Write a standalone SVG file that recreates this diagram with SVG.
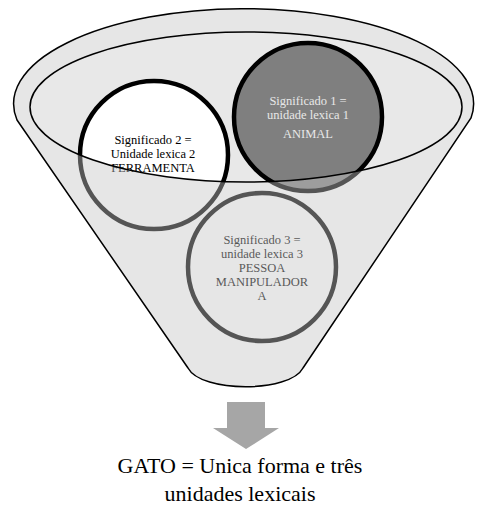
<svg xmlns="http://www.w3.org/2000/svg" width="477" height="518" viewBox="0 0 477 518">
<style>
.t{font-family:'Liberation Serif','Times New Roman','DejaVu Serif',serif;font-size:12.5px;text-anchor:middle}
.big{font-family:'Liberation Serif','Times New Roman','DejaVu Serif',serif;font-size:22px;text-anchor:middle;fill:#000}
.ring{stroke-width:4.5}
</style>
<defs>
<path id="funnel" d="M17,120 L188,368 C201,393 290,393 303,368 L471,118 A230,95 0 1 0 17,120 Z"/>
</defs>
<g id="funnel-back">
<use href="#funnel" fill="#ffffff"/>
<ellipse cx="246" cy="107" rx="216" ry="75" fill="#e8e8e8"/>
</g>
<g id="node1">
<circle class="ring" cx="308" cy="117" r="74" fill="#7f7f7f" stroke="#000"/>
<text class="t" fill="#e8e8e8"><tspan x="308" y="105">Significado 1 =</tspan><tspan x="308" y="119">unidade lexica 1</tspan><tspan x="308" y="138">ANIMAL</tspan></text>
</g>
<g id="node2">
<circle class="ring" cx="154" cy="155" r="74" fill="#ffffff" stroke="#000"/>
<text class="t" fill="#000"><tspan x="153" y="144">Significado 2 =</tspan><tspan x="153" y="158">Unidade lexica 2</tspan><tspan x="153" y="172">FERRAMENTA</tspan></text>
</g>
<g id="node3">
<circle class="ring" cx="262" cy="267" r="74" fill="#ffffff" stroke="#000"/>
<text class="t" fill="#000"><tspan x="262" y="244">Significado 3 =</tspan><tspan x="262" y="258">unidade lexica 3</tspan><tspan x="262" y="272">PESSOA</tspan><tspan x="262" y="286">MANIPULADOR</tspan><tspan x="262" y="300">A</tspan></text>
</g>
<g id="funnel-front">
<path d="M17,120 L188,368 C201,393 290,393 303,368 L471,118 A230,95 0 1 0 17,120 Z M30,107 A216,75 0 1 0 462,107 A216,75 0 1 0 30,107 Z" fill="#c6c6c6" fill-opacity="0.43" fill-rule="evenodd"/>
<ellipse cx="246" cy="107" rx="216" ry="75" fill="none" stroke="#000" stroke-width="1.5"/>
<use href="#funnel" fill="none" stroke="#000" stroke-width="1.5"/>
</g>
<g id="connectors">
<polygon points="227,402 265,402 265,428 279,428 246,449 213,428 227,428" fill="#a6a6a6"/>
</g>
<g id="result">
<text class="big"><tspan x="240" y="473">GATO = Unica forma e três</tspan><tspan x="240" y="501">unidades lexicais</tspan></text>
</g>
</svg>
